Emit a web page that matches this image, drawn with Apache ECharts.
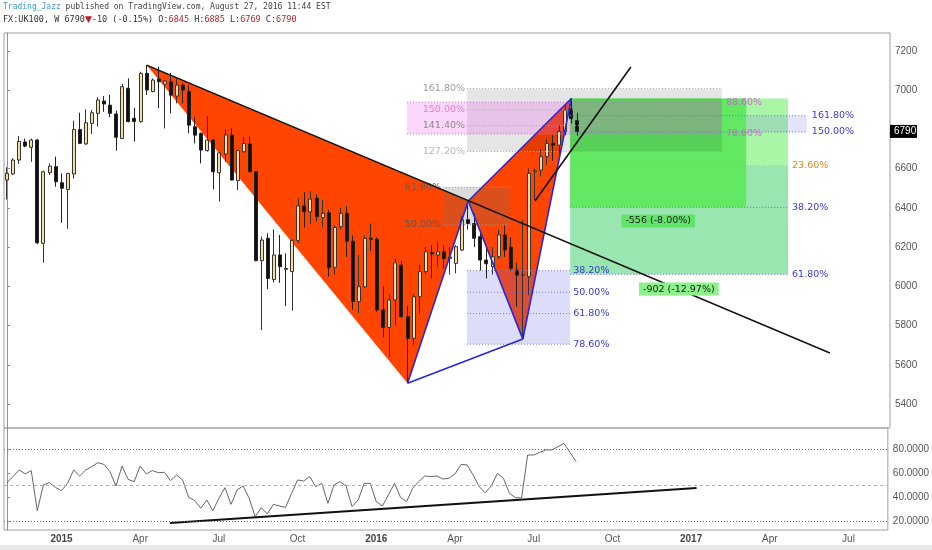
<!DOCTYPE html>
<html><head><meta charset="utf-8">
<script src="https://cdn.jsdelivr.net/npm/echarts@6/dist/echarts.min.js"></script>
<style>html,body{margin:0;padding:0;background:#fff}#c{width:932px;height:550px}</style>
</head><body><div id="c"></div>
<script>
// ---------- DATA ----------
// weekly bars, week index 0 = week of 2014-11-03 : [week, open, high, low, close]
const candles = [
[0,6542,6607,6443,6576],[1,6573,6653,6567,6644],[2,6644,6766,6624,6739],[3,6736,6753,6709,6715],
[4,6709,6753,6635,6746],[5,6746,6752,6215,6222],[6,6219,6590,6120,6584],[7,6579,6627,6568,6613],
[8,6610,6661,6508,6533],[9,6528,6576,6324,6500],[10,6494,6579,6294,6576],[11,6573,6845,6550,6800],
[12,6800,6885,6725,6729],[13,6726,6902,6722,6834],[14,6831,6899,6777,6885],[15,6882,6964,6814,6950],
[16,6945,6970,6890,6930],[17,6924,6976,6862,6882],[18,6879,6896,6692,6760],[19,6754,7032,6750,7018],
[20,7010,7060,6836,6840],[21,6857,6911,6738,6840],[22,6840,7094,6835,7086],[23,7086,7128,6976,7001],
[24,6993,7060,6990,7052],[25,7057,7120,6908,7043],[26,7031,7052,6805,7047],[27,7043,7089,6882,6975],
[28,6970,7060,6933,7026],[29,7026,7035,6933,7001],[30,6993,7026,6780,6822],[31,6814,6865,6729,6771],
[32,6780,6785,6627,6695],[33,6692,6868,6687,6746],[34,6746,6750,6494,6584],[35,6579,6685,6432,6681],
[36,6675,6800,6635,6772],[37,6772,6806,6540,6542],[38,6539,6695,6491,6692],[39,6686,6763,6681,6729],
[40,6726,6763,6580,6584],[41,6584,6588,6128,6131],[42,6131,6253,5777,6236],[43,6245,6270,5985,6040],
[44,6035,6290,6020,6160],[45,6160,6262,6018,6100],[46,6090,6168,5899,6087],[47,6075,6240,5876,6233],
[48,6233,6450,6220,6410],[49,6410,6480,6300,6380],[50,6380,6485,6320,6445],[51,6450,6470,6330,6355],
[52,6350,6440,6300,6372],[53,6375,6390,6050,6095],[54,6097,6310,6060,6300],[55,6304,6400,6290,6372],
[56,6372,6410,6150,6230],[57,6230,6260,5880,5922],[58,5922,6160,5862,5998],[59,5998,6260,5990,6245],
[60,6245,6320,6180,6240],[61,6240,6250,5870,5879],[62,5880,6000,5740,5790],[63,5790,5960,5640,5930],
[64,5930,6140,5800,6120],[65,6108,6130,5840,5845],[66,5845,5900,5506,5735],[67,5735,5960,5700,5947],
[68,5947,6110,5860,6075],[69,6075,6200,6060,6176],[70,6172,6210,6040,6165],[71,6160,6230,6100,6176],
[72,6176,6210,6090,6142],[73,6142,6200,6060,6150],[74,6117,6210,6066,6202],[75,6185,6360,6180,6340],
[76,6340,6435,6290,6320],[77,6320,6370,6200,6245],[78,6253,6270,6080,6134],[79,6134,6200,6040,6115],
[80,6100,6200,6060,6151],[81,6151,6290,6140,6262],[82,6262,6310,6150,6185],[83,6200,6250,6080,6092],
[84,6083,6120,5896,6057],[85,6057,6340,5731,6060],[86,6049,6601,5955,6576],[87,6584,6600,6440,6590],
[88,6593,6700,6560,6661],[89,6661,6750,6620,6729],[90,6729,6770,6640,6720],[91,6720,6820,6650,6790],
[92,6788,6930,6770,6899],[93,6905,6958,6830,6855],[94,6845,6885,6769,6790]
];
// oscillator, one value per week from week 0
const oscillator = [52,57,62.5,59.2,62,28.6,50,52,48,45.3,51.4,62.5,57.5,62.5,65.3,68.6,67.2,61.1,49.2,65.8,
54.7,52.8,65.8,59.2,62,60.3,60.6,53.6,58.3,54.2,39.7,37,30.6,37.5,28.6,38.9,47.8,33.9,45.8,49.2,
38.9,23.6,31.1,25.8,33.9,32.5,31.4,43,54.2,53.3,57,48.6,51.4,34.7,50,52.8,49.2,32,37.5,51.4,
51.4,36.1,32.5,41.7,51.4,39.7,36.1,47.2,52.8,57.5,57,57.5,55,55.6,59.2,67.2,66.7,58.3,48.6,43.6,
49.2,59.7,55.6,43,39.4,39.4,75,75,77.2,79.2,79.2,81.9,84.7,77.2,69.4];
const oscLevels = [80, 50, 20];

// X-A-B-C-D pattern points
const xabcdWeek  = [23, 66, 76, 85, 93];
const xabcdPrice = [7128, 5506, 6435, 5731, 6958];

// fib drawings
const fibXALabels = ['61.80%', '50.00%'];
const fibXAPrices = [6505, 6314];
const fibXASpan = [71.85, 82.9];

const fibABLabels = ['38.20%', '50.00%', '61.80%', '78.60%'];
const fibABPrices = [6080, 5970, 5861, 5705];
const fibABSpan = [75.8, 92.8];

const extLabels = ['161.80%', '150.00%', '141.40%', '127.20%'];
const extPrices = [7009, 6900, 6820, 6688];
const extSpan = [75.8, 117.8];

const przLabels = ['88.60%', '78.60%'];
const przPrices = [6939, 6777];
const przSpan = [65.9, 117.8];

const bcLabels = ['161.80%', '150.00%'];
const bcPrices = [6870, 6787];
const bcLineSpan = [92.8, 131.8];
const bcBoxSpan = [121.8, 131.8];

const adLabels = ['23.60%', '38.20%', '61.80%'];
const adPrices = [6615, 6403, 6061];
const adTop = 6958;
const adSpan = [92.8, 128.7];
const rangeBoxSpan = [92.8, 121.8];

const rangeTags = ['-556 (-8.00%)', '-902 (-12.97%)'];
const rangeTagWeek = [107.3, 110.7];
const rangeTagPrice = [6333, 5986];

const trendWeeks = [23, 135.6];
const trendPrices = [7128, 5660];
const channelWeeks = [87, 102.8];
const channelPrices = [6435, 7118];
const oscTrendWeeks = [26.9, 113.9];
const oscTrendValues = [18.3, 47.5];

const priceTicks = [5400, 5600, 5800, 6000, 6200, 6400, 6600, 7000, 7200];
const oscTicks = [20, 40, 60, 80];
const xTickWeeks = [9, 22, 35, 48, 61, 74, 87, 100, 113, 126, 139];
const xTickLabels = ['2015','Apr','Jul','Oct','2016','Apr','Jul','Oct','2017','Apr','Jul'];
const lastClose = 6790;

// ---------- STYLE ----------
const RED = '#ff4500', BLUE = '#2626dc';
const AX_FONT = "'Liberation Sans Narrow', 'Liberation Sans', Arial, sans-serif";
const LB_FONT = "'DejaVu Sans', Verdana, sans-serif";
const DOT = [1, 2];

function helpers(api) {
  const pt = (w, v) => api.coord([w, v]);
  const rect = (w0, w1, v0, v1, fill) => {
    const a = pt(w0, Math.max(v0, v1)), b = pt(w1, Math.min(v0, v1));
    return {type: 'rect', shape: {x: a[0], y: a[1], width: b[0] - a[0], height: b[1] - a[1]}, style: {fill}};
  };
  const seg = (w0, v0, w1, v1, stroke, lw, dash) => {
    const a = pt(w0, v0), b = pt(w1, v1);
    const st = {stroke, lineWidth: lw};
    if (dash) st.lineDash = dash;
    return {type: 'line', shape: {x1: a[0], y1: a[1], x2: b[0], y2: b[1]}, style: st};
  };
  const text = (w, v, t, fill, align, dx, extra) => {
    const p = pt(w, v);
    return {type: 'text', x: p[0] + dx, y: p[1],
      style: Object.assign({text: t, fill, fontSize: 9.5, fontFamily: LB_FONT, align, verticalAlign: 'middle'}, extra || {})};
  };
  return {pt, rect, seg, text};
}

function renderFills(params, api) {
  const {pt, rect} = helpers(api);
  const P = k => pt(xabcdWeek[k], xabcdPrice[k]);
  const ch = [];
  ch.push({type: 'polygon', shape: {points: [P(0), P(1), P(2)]}, style: {fill: RED}});
  ch.push({type: 'polygon', shape: {points: [P(2), P(3), P(4)]}, style: {fill: RED}});
  ch.push(rect(adSpan[0], adSpan[1], adPrices[0], adPrices[2], '#9ae6b1'));
  ch.push(rect(adSpan[0], adSpan[1], adTop, adPrices[0], '#abf5a6'));
  ch.push(rect(rangeBoxSpan[0], rangeBoxSpan[1], adTop, adPrices[1], '#62e862'));
  ch.push(rect(fibABSpan[0], fibABSpan[1], fibABPrices[0], fibABPrices[fibABPrices.length - 1], 'rgba(100,100,230,0.22)'));
  ch.push(rect(fibXASpan[0], fibXASpan[1], fibXAPrices[0], fibXAPrices[1], 'rgba(110,110,110,0.25)'));
  ch.push(rect(extSpan[0], extSpan[1], extPrices[0], extPrices[extPrices.length - 1], 'rgba(0,0,0,0.1)'));
  ch.push(rect(przSpan[0], przSpan[1], przPrices[0], przPrices[1], 'rgba(240,100,240,0.25)'));
  ch.push(rect(bcBoxSpan[0], bcBoxSpan[1], bcPrices[0], bcPrices[1], 'rgba(120,120,240,0.2)'));
  return {type: 'group', children: ch};
}

function renderDrawings(params, api) {
  const {pt, seg, text} = helpers(api);
  const ch = [];
  fibXAPrices.forEach((v, k) => {
    ch.push(seg(fibXASpan[0], v, fibXASpan[1], v, '#999', 1, DOT));
    ch.push(text(fibXASpan[0], v, fibXALabels[k], '#5a5a5a', 'right', -2));
  });
  fibABPrices.forEach((v, k) => {
    ch.push(seg(fibABSpan[0], v, fibABSpan[1], v, '#7474dc', 1, DOT));
    ch.push(text(fibABSpan[1], v, fibABLabels[k], '#3838d0', 'left', 3));
  });
  const extColors = ['#9a9a9a', '#f07ad0', '#8a8a8a', '#b8b8b8'];
  extPrices.forEach((v, k) => {
    ch.push(seg(extSpan[0], v, extSpan[1], v, '#aaa', 1, DOT));
    ch.push(text(extSpan[0], v, extLabels[k], extColors[k], 'right', -2));
  });
  przPrices.forEach((v, k) => {
    ch.push(seg(przSpan[0], v, przSpan[1], v, '#c070d0', 1, DOT));
    ch.push(text(przSpan[1], v, przLabels[k], '#c46ad0', 'left', 4));
  });
  bcPrices.forEach((v, k) => {
    ch.push(seg(bcLineSpan[0], v, bcLineSpan[1], v, '#6a6ae0', 1, DOT));
    ch.push(text(bcLineSpan[1], v, bcLabels[k], '#3a3ad8', 'left', 5));
  });
  const adColors = ['#e08a2a', '#3a3ad8', '#3a3ad8'];
  const adLine = ['#c9a070', '#6a6ad0', '#6a6ad0'];
  adPrices.forEach((v, k) => {
    ch.push(seg(adSpan[0], v, adSpan[1], v, adLine[k], 1, DOT));
    ch.push(text(adSpan[1], v, adLabels[k], adColors[k], 'left', 4));
  });
  const L = (a, b) => ch.push(seg(xabcdWeek[a], xabcdPrice[a], xabcdWeek[b], xabcdPrice[b], BLUE, 1.6));
  L(1, 2); L(2, 3); L(3, 4); L(1, 3); L(2, 4);
  ch.push(seg(trendWeeks[0], trendPrices[0], trendWeeks[1], trendPrices[1], '#111', 1.6));
  ch.push(seg(channelWeeks[0], channelPrices[0], channelWeeks[1], channelPrices[1], '#111', 1.6));
  const tagBg = ['#62e36a', '#8cf28c'];
  rangeTags.forEach((t, k) => {
    ch.push(text(rangeTagWeek[k], rangeTagPrice[k], t, '#1a1a1a', 'center', 0,
      {backgroundColor: tagBg[k], padding: [2, 4, 1, 4]}));
  });
  return {type: 'group', children: ch};
}

function renderPriceTag(params, api) {
  const p = api.coord([145.5, lastClose]);
  return {type: 'group', children: [
    {type: 'rect', shape: {x: p[0], y: p[1] - 6.5, width: 27, height: 13}, style: {fill: '#000'}},
    {type: 'text', x: p[0] + 4, y: p[1], style: {text: String(lastClose), fill: '#fff', fontSize: 10, fontFamily: AX_FONT, verticalAlign: 'middle', align: 'left'}}
  ]};
}

const chart = echarts.init(document.getElementById('c'), null, {renderer: 'canvas'});
const candleData = candles.map(c => [c[0], c[1], c[4], c[3], c[2]]);

chart.setOption({
  animation: false,
  backgroundColor: '#fff',
  graphic: [
    {type: 'text', left: 3, top: 3, style: {
      text: '{a|Trading_Jazz}{b| published on TradingView.com, August 27, 2016 11:44 EST}',
      rich: {a: {fill: '#3c9bd0', fontSize: 8, fontFamily: 'DejaVu Sans Mono'}, b: {fill: '#444', fontSize: 8, fontFamily: 'DejaVu Sans Mono'}}}},
    {type: 'text', left: 3, top: 15, style: {
      text: '{k|FX:UK100, W 6790}{r|▼}{k|-10 (-0.15%) O:}{v|6845}{k| H:}{v|6885}{k| L:}{v|6769}{k| C:}{v|6790}',
      rich: {k: {fill: '#333', fontSize: 8.5, fontFamily: 'DejaVu Sans Mono'}, v: {fill: '#b8262a', fontSize: 8.5, fontFamily: 'DejaVu Sans Mono'}, r: {fill: '#c8141a', fontSize: 9, fontFamily: 'DejaVu Sans'}}}},
    {type: 'rect', left: 0, top: 545, shape: {width: 932, height: 5}, style: {fill: '#e9e9e9'}}
  ],
  grid: [
    {left: 4, right: 42, top: 33, height: 395, show: true, borderColor: '#a0a0a0', borderWidth: 1},
    {left: 4, right: 42, top: 428, height: 102, show: true, borderColor: '#a0a0a0', borderWidth: 1}
  ],
  xAxis: [
    {gridIndex: 0, type: 'value', min: -0.5, max: 145.5, show: false, splitLine: {show: false}},
    {gridIndex: 1, type: 'value', min: -0.5, max: 145.5, splitLine: {show: false},
     axisLine: {show: false}, axisTick: {show: false},
     axisLabel: {customValues: xTickWeeks, margin: 4, color: '#555', fontSize: 10, fontFamily: AX_FONT,
       formatter: v => { const t = xTickLabels[xTickWeeks.indexOf(Math.round(v))] || ''; return /^\d{4}$/.test(t) ? '{y|' + t + '}' : t; },
       rich: {y: {fontWeight: 'bold', fontSize: 10, color: '#444', fontFamily: AX_FONT}}}}
  ],
  yAxis: [
    {gridIndex: 0, type: 'value', position: 'right', min: 5277.6, max: 7291.8, splitLine: {show: false},
     axisLine: {show: true, lineStyle: {color: '#909090'}},
     axisTick: {show: true, length: 3, customValues: priceTicks, lineStyle: {color: '#909090'}},
     axisLabel: {customValues: priceTicks, margin: 5, color: '#555', fontSize: 10, fontFamily: AX_FONT, formatter: v => String(v)}},
    {gridIndex: 1, type: 'value', position: 'right', min: 12.5, max: 97.5, splitLine: {show: false},
     axisLine: {show: true, lineStyle: {color: '#909090'}},
     axisTick: {show: true, length: 3, customValues: oscTicks, lineStyle: {color: '#909090'}},
     axisLabel: {customValues: oscTicks, margin: 5, color: '#555', fontSize: 10, fontFamily: AX_FONT, formatter: v => v.toFixed(4)}}
  ],
  series: [
    {type: 'custom', name: 'fills', xAxisIndex: 0, yAxisIndex: 0, z: 1, silent: true,
     data: [[0, 6000]], renderItem: renderFills},
    {type: 'candlestick', name: 'UK100', xAxisIndex: 0, yAxisIndex: 0, z: 2, barWidth: 3.5,
     dimensions: ['week', 'open', 'close', 'lowest', 'highest'],
     encode: {x: 'week', y: ['open', 'close', 'lowest', 'highest']},
     data: candleData,
     itemStyle: {color: '#f4dca4', color0: '#111', borderColor: '#333', borderColor0: '#222', borderWidth: 1}},
    {type: 'custom', name: 'drawings', xAxisIndex: 0, yAxisIndex: 0, z: 3, silent: true,
     data: [[0, 6000]], renderItem: renderDrawings},
    {type: 'custom', name: 'lastPrice', xAxisIndex: 0, yAxisIndex: 0, z: 4, silent: true, clip: false,
     data: [[0, 6000]], renderItem: renderPriceTag},
    {type: 'line', name: 'osc', xAxisIndex: 1, yAxisIndex: 1, showSymbol: false, silent: true,
     data: oscillator.map((v, i) => [i, v]), lineStyle: {color: '#666', width: 1},
     markLine: {silent: true, symbol: ['none', 'none'], label: {show: false},
       data: [
         {yAxis: oscLevels[0], lineStyle: {color: '#e04848', type: [1, 2], width: 1}},
         {yAxis: oscLevels[1], lineStyle: {color: '#f0a060', type: [3, 3], width: 1}},
         {yAxis: oscLevels[2], lineStyle: {color: '#3a9a3a', type: [1, 2], width: 1}}
       ]}},
    {type: 'line', name: 'oscTrend', xAxisIndex: 1, yAxisIndex: 1, showSymbol: false, silent: true,
     data: oscTrendWeeks.map((w, k) => [w, oscTrendValues[k]]), lineStyle: {color: '#111', width: 2}}
  ]
});
</script></body></html>
